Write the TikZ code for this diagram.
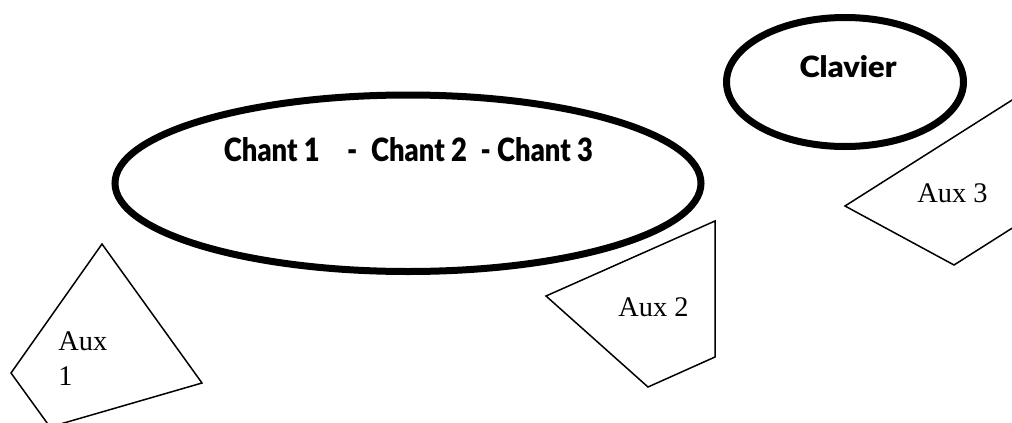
\documentclass[tikz,border=0pt]{standalone}
\usepackage{fontspec}
\usepackage{graphicx}
\setmainfont{Liberation Serif}
\newfontfamily\titrefont{Lato}[BoldFont={Lato Black}]
\usetikzlibrary{shapes.geometric}
\tikzset{bulle/.style={ellipse, draw=black, line width=3.5pt, inner sep=0pt},
titre/.style={inner sep=0pt, font=\titrefont\bfseries},
aux/.style={inner sep=0pt, font=\fontsize{14.2}{17.5}\selectfont},
bord/.style={draw=black, line width=0.75pt, line join=miter}}

\begin{document}
\begin{tikzpicture}[x=0.5pt, y=-0.5pt]

\useasboundingbox (0,0) rectangle (1012,423);
\clip (0,0) rectangle (1012,423);

% the two ellipses
\node[bulle, minimum width=293pt, minimum height=88.25pt] (chants) at (408,183.25) {};
\node[bulle, minimum width=118.5pt, minimum height=64.5pt] (clavier) at (845,82) {};

\node[titre] (chantstxt) at (408.5,150) {\resizebox{184.5pt}{12pt}{Chant 1\quad-\enspace Chant 2\enspace - Chant 3}};
\node[titre] (claviertxt) at (848,67) {\resizebox{48.5pt}{11pt}{Clavier}};

% the three aux
\draw[bord] (102,244) -- (202,383) -- (50,427) -- (11,373) -- cycle;
\draw[bord] (546,296) -- (715,221) -- (715,357) -- (648,387) -- cycle;
\draw[bord] (845,206) -- (1050,76) -- (1159,135) -- (954,265) -- cycle;

\node[aux, anchor=north west, align=left] (aux1) at (58,331) {Aux\\1};
\node[aux, anchor=base west] (aux2) at (618,316) {Aux 2};
\node[aux, anchor=base west] (aux3) at (917,202) {Aux 3};

\end{tikzpicture}
\end{document}
